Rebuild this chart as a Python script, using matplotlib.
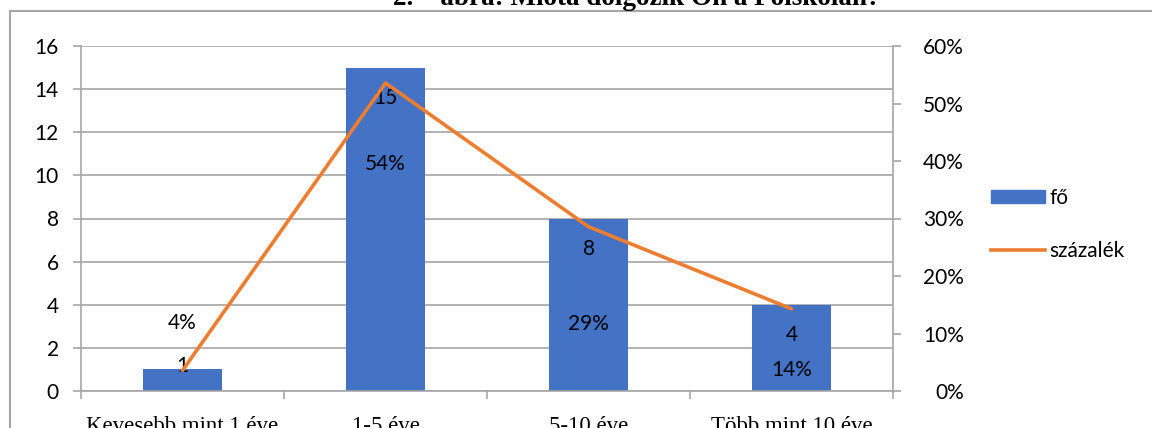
import numpy as np
import matplotlib
matplotlib.use('Agg')
import matplotlib.pyplot as plt
from matplotlib.patches import Rectangle
from matplotlib.lines import Line2D

# data
categories = ['Kevesebb mint 1 éve', '1-5 éve', '5-10 éve', 'Több mint 10 éve']
counts = [1, 15, 8, 4]
pct_labels = ['4%', '54%', '29%', '14%']
title = '2.    ábra: Mióta dolgozik Ön a Főiskolán?'

# colors like excel
blue = '#4472C4'
orange = '#ED7D31'
grey = '#A6A6A6'

plt.rcParams['font.family'] = ['Lato', 'DejaVu Sans']

fig = plt.figure(figsize=(11.52, 4.28), dpi=100)
ax = fig.add_axes([81/1152, 37/428, 812/1152, 345/428])

x = np.arange(len(categories))
ax.bar(x, counts, width=0.39, color=blue, zorder=2)
ax.set_xlim(-0.5, len(categories) - 0.5)
ax.set_ylim(0, 16)
ax.set_yticks(range(0, 17, 2))
ax.grid(axis='y', color=grey, linewidth=1.2, zorder=0)

for s in ['top', 'right']:
    ax.spines[s].set_visible(False)
for s in ['left', 'bottom']:
    ax.spines[s].set_color(grey)
    ax.spines[s].set_linewidth(1.2)

ax.tick_params(axis='y', direction='out', length=6, color=grey, width=1.2,
               labelsize=15, pad=10)
ax.set_xticks(np.arange(-0.5, len(categories), 1.0))
ax.set_xticklabels([])
ax.tick_params(axis='x', direction='out', length=6, color=grey, width=1.2)
ax.set_xticks(x, minor=True)
ax.set_xticklabels(categories, minor=True, family='Liberation Serif', fontsize=16.5)
ax.tick_params(axis='x', which='minor', length=0, pad=18)

# right axis with the percentages
ax2 = ax.twinx()
ax2.set_ylim(0, 0.6)
ax2.set_yticks(np.arange(0, 0.61, 0.1))
ax2.set_yticklabels(['%d%%' % round(v * 100) for v in np.arange(0, 0.61, 0.1)])
for lab in ax2.get_yticklabels():
    lab.set_horizontalalignment('right')
for s in ['top', 'left', 'bottom']:
    ax2.spines[s].set_visible(False)
ax2.spines['right'].set_color(grey)
ax2.spines['right'].set_linewidth(1.2)
ax2.tick_params(axis='y', direction='out', length=6, color=grey, width=1.2,
                labelsize=15, pad=45)
ax2.plot(x, [c / sum(counts) for c in counts], color=orange, linewidth=2.6,
         zorder=3, solid_capstyle='round')

# data labels
count_offsets = [2.5, -22, -22, -22]
for i, c in enumerate(counts):
    ax.annotate(str(c), (x[i], c), xytext=(0, count_offsets[i]), textcoords='offset points',
                ha='center', va='center', fontsize=15, zorder=4)
pct_offsets = [34, -58, -70, -44]
for i, p in enumerate(pct_labels):
    ax2.annotate(p, (x[i], counts[i] / sum(counts)), xytext=(0, pct_offsets[i]),
                 textcoords='offset points', ha='center', va='center', fontsize=15, zorder=4)

# legend
handles = [Rectangle((0, 0), 1, 1, color=blue), Line2D([], [], color=orange, linewidth=2.6)]
fig.legend(handles, ['fő', 'százalék'], loc='center left', bbox_to_anchor=(972/1152, 0.475),
           frameon=False, fontsize=15, handlelength=2.6, handleheight=0.6,
           handletextpad=0.2, labelspacing=1.6)

# frame of the document chart and the cut title
fig.patches.append(Rectangle((10/1152, -0.2), 1.2, 1.2 - 11/428, transform=fig.transFigure,
                             fill=False, edgecolor=grey, linewidth=1.5))
fig.text(637/1152, 1 - 5/428, title, ha='center', va='baseline', fontsize=19.5,
         family='Liberation Serif', weight='bold')

fig.savefig('out.png', dpi=100)
